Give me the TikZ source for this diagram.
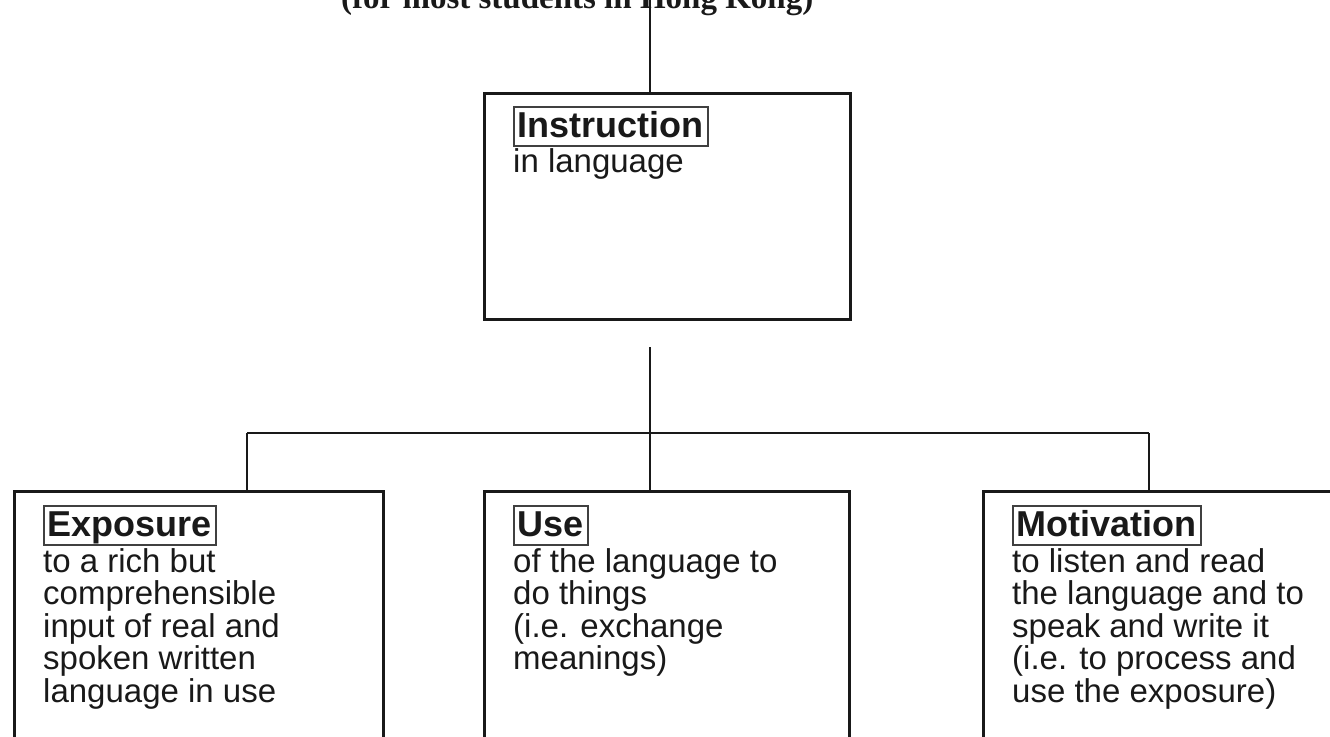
\documentclass[tikz,border=0pt]{standalone}
\usepackage{fontspec}
\setmainfont{Liberation Serif}
\setsansfont{Liberation Sans}
\begin{document}
\begin{tikzpicture}[x=1pt,y=-1pt,
  box/.style={draw=black!90, line width=2.6pt, anchor=north west, inner sep=0pt},
  lbl/.style={draw=black!75, line width=1.6pt, anchor=north west,
    font=\sffamily\bfseries\fontsize{36}{40}\selectfont, text=black!90,
    inner xsep=4pt, inner ysep=4pt, text height=27pt, text depth=4pt},
  body/.style={anchor=base west, align=left, inner sep=0pt, text=black!90,
    font=\sffamily\fontsize{33}{32.5}\selectfont},
  conn/.style={draw=black!90, line width=2.4pt}]
\useasboundingbox (0,0) rectangle (1330,736);
\clip (0,0) rectangle (1330,736);

\node[anchor=base west, inner sep=0pt, text=black!90,
  font=\rmfamily\bfseries\fontsize{33}{36}\selectfont] (title) at (341,9)
  {(for most students in Hong Kong)};

% boxes
\node[box, minimum width=366pt, minimum height=226pt] (instr) at (483,92) {};
\node[box, minimum width=369pt, minimum height=300pt] (expo) at (13,490) {};
\node[box, minimum width=365pt, minimum height=300pt] (use) at (483,490) {};
\node[box, minimum width=400pt, minimum height=300pt] (motiv) at (982,490) {};

% headings
\node[lbl] (instrL) at ([shift={(30,14)}]instr.north west) {Instruction};
\node[lbl] (expoL) at ([shift={(30,15)}]expo.north west) {Exposure};
\node[lbl] (useL) at ([shift={(30,15)}]use.north west) {Use};
\node[lbl] (motivL) at ([shift={(30,15)}]motiv.north west) {Motivation};

% body texts (anchor = baseline of the last line)
\node[body] (instrT) at ([shift={(30,80)}]instr.north west) {in language};
\node[body] (expoT) at ([shift={(30,212)}]expo.north west)
  {to a rich but\\comprehensible\\input of real and\\spoken written\\language in use};
\node[body] (useT) at ([shift={(30,179.5)}]use.north west)
  {of the language to\\do things\\(i.e. exchange\\meanings)};
\node[body] (motivT) at ([shift={(30,212)}]motiv.north west)
  {to listen and read\\the language and to\\speak and write it\\(i.e. to process and\\use the exposure)};

% connectors
\coordinate (top) at (650,0);
\coordinate (stub) at (650,347);
\coordinate (bus) at (650,433);
\coordinate (busL) at (247,433);
\coordinate (busR) at (1149,433);
\draw[conn] (top) -- (top |- instr.north);
\draw[conn] (stub) -- (bus);
\draw[conn] (busL) -- (busR);
\draw[conn] (busL) -- (busL |- expo.north);
\draw[conn] (bus) -- (bus |- use.north);
\draw[conn] (busR) -- (busR |- motiv.north);
\end{tikzpicture}
\end{document}
